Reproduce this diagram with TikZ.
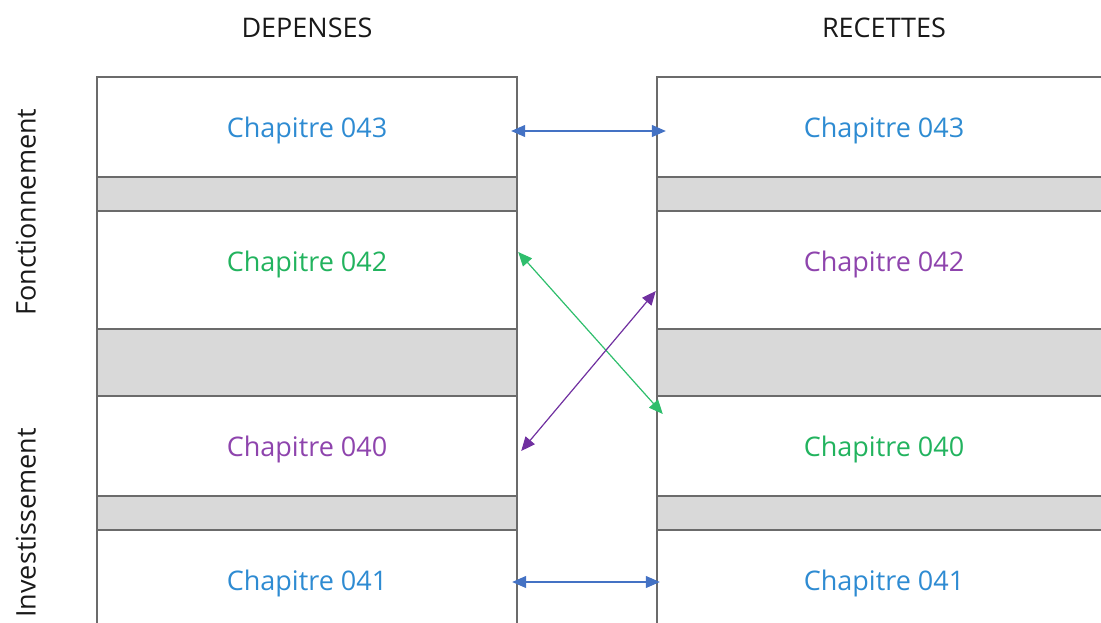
\documentclass[tikz,border=0pt]{standalone}
\usepackage{fontspec}
\setmainfont{Open Sans}
\usetikzlibrary{arrows.meta}
\definecolor{chblue}{HTML}{2E8BD2}
\definecolor{chgreen}{HTML}{22B35E}
\definecolor{chpurple}{HTML}{8E44AD}
\definecolor{arblue}{HTML}{4472C4}
\definecolor{argreen}{HTML}{2EBE6C}
\definecolor{arpurple}{HTML}{7030A0}
\definecolor{bandgray}{HTML}{D9D9D9}
\definecolor{linegray}{HTML}{6B6B6B}
\tikzset{
	txt/.style={inner sep=0pt,text height=19pt,text depth=0pt,font=\fontsize{27}{30}\selectfont},
	dcell/.style={txt,minimum width=420pt},
	rcell/.style={txt,minimum width=454pt},
	band/.style={fill=bandgray,draw=linegray,line width=1.3pt},
	frame/.style={draw=linegray,line width=1.3pt},
	link/.style={<->,line width=1.2pt},
}
\begin{document}
\begin{tikzpicture}[x=1pt,y=-1pt,>={Triangle[length=14pt,width=12pt]}]
	\useasboundingbox (0,0) rectangle (1101,623);
	% columns
	\foreach \x/\w in {97/420,657/460} {
		\begin{scope}[xshift=\x pt]
			\foreach \a/\b in {177/211,329/396,496/530}
				\draw[band] (0,\a) rectangle (\w,\b);
			\draw[frame] (0,640) -- (0,77) -- (\w,77) -- (\w,640);
		\end{scope}
	}
	% headers
	\node[txt,text=black!90] (dep) at (307,28) {DEPENSES};
	\node[txt,text=black!90] (rec) at (884,28) {RECETTES};
	\node[txt,text=black!90,rotate=90] (fonc) at (26,212) {Fonctionnement};
	\node[txt,text=black!90,rotate=90] (inv) at (26,523) {Investissement};
	% depenses
	\node[dcell,text=chblue] (d43) at (307,128) {Chapitre 043};
	\node[dcell,text=chgreen] (d42) at (307,262) {Chapitre 042};
	\node[dcell,text=chpurple] (d40) at (307,447) {Chapitre 040};
	\node[dcell,text=chblue] (d41) at (307,581) {Chapitre 041};
	% recettes
	\node[rcell,text=chblue] (r43) at (884,128) {Chapitre 043};
	\node[rcell,text=chpurple] (r42) at (884,262) {Chapitre 042};
	\node[rcell,text=chgreen] (r40) at (884,447) {Chapitre 040};
	\node[rcell,text=chblue] (r41) at (884,581) {Chapitre 041};
	% links
	\draw[link,arblue,shorten <=-6pt,shorten >=-9pt] ([yshift=-3pt]d43.east) -- ([yshift=-3pt]r43.west);
	\draw[link,arblue,shorten <=-5pt,shorten >=-3pt] ([yshift=-1pt]d41.east) -- ([yshift=-1pt]r41.west);
	\draw[link,argreen] ([xshift=1pt,yshift=10pt]d42.east) -- ([xshift=6pt,yshift=33pt]r40.west);
	\draw[link,arpurple] ([xshift=-1pt,yshift=-29pt]r42.west) -- ([xshift=4pt,yshift=-4pt]d40.east);
\end{tikzpicture}
\end{document}
